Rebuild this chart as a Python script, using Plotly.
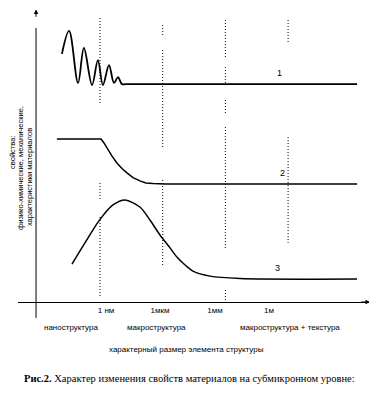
import plotly.graph_objects as go

# x: log10 of the characteristic size of the structure element (m)
# y: property value (arbitrary units)
grid_x = [-9, -6, -3, 0]
tick_labels = ["1 нм", "1мкм", "1мм", "1м"]
tick_label_x = [-8.71, -6.13, -3.50, -0.91]

c1_x = [-10.82, -10.48, -10.05, -9.77, -9.38, -9.10, -8.86, -8.57, -8.33, -8.14, -7.95, -7.76, 3.30]
c1_y = [84.4, 92.2, 74.5, 86.4, 73.8, 82.3, 73.8, 80.6, 74.5, 76.5, 74.1, 74.1, 74.1]

c2_x = [-11.06, -8.95, -8.81, -8.67, -8.43, -8.19, -7.95, -7.71, -7.42, -7.09, -6.80, -6.46, -5.89, 3.30]
c2_y = [55.4, 55.4, 54.1, 52.4, 49.7, 47.3, 45.4, 43.9, 42.3, 41.2, 40.5, 40.3, 40.1, 40.1]

c3_x = [-10.34, -9.72, -9.05, -8.38, -7.80, -7.09, -6.61, -6.13, -5.65, -5.32, -4.93, -4.55, -3.74, -2.30, 3.30]
c3_y = [12.9, 20.1, 27.6, 33.0, 34.7, 32.3, 27.9, 22.8, 18.4, 15.3, 12.6, 10.5, 8.8, 8.0, 7.8]

curve_labels = ["1", "2", "3"]
curve_label_x = [-0.43, -0.29, -0.53]
curve_label_y = [77.9, 43.9, 11.6]

# visible pieces of each dotted grid line (scan has gaps)
grid_segments = [
    [(96.6, 67.0), (40.5, 34.7), (28.9, 1.7)],
    [(94.2, 90.1), (85.7, 52.7), (41.5, 11.9)],
    [(95.9, 83.3), (79.9, 74.5), (68.7, 64.3), (59.5, 17.7), (4.1, 0.7)],
    [(95.9, 88.4), (56.1, 20.1)],
]

region_labels = ["наноструктура", "макроструктура", "макроструктура + текстура"]
region_x = [-10.39, -6.32, 0.09]

y_title_lines = ["свойства:", "физико-химические, механические,", "характеристики материалов"]
y_title_px = [-0.0142, 0.0085, 0.0313]
y_title_py = [0.507, 0.456, 0.425]

X_RANGE = [-12.923, 3.919]
Y_RANGE = [0, 100]
Y_AXIS_X = -12.06

fig = go.Figure()
fig.add_trace(go.Scatter(x=c1_x, y=c1_y, mode="lines", line=dict(color="black", width=1.8, shape="spline", smoothing=1.0)))
fig.add_trace(go.Scatter(x=c2_x, y=c2_y, mode="lines", line=dict(color="black", width=1.5)))
fig.add_trace(go.Scatter(x=c3_x, y=c3_y, mode="lines", line=dict(color="black", width=1.5, shape="spline", smoothing=0.8)))

for gx, segs in zip(grid_x, grid_segments):
    for y0, y1 in segs:
        fig.add_shape(type="line", xref="x", yref="y", x0=gx, x1=gx, y0=y0, y1=y1,
                      line=dict(color="black", width=1, dash="1px,2px"))

# vertical (property) axis, extending a little below the size axis
fig.add_shape(type="line", xref="x", yref="paper", x0=Y_AXIS_X, x1=Y_AXIS_X, y0=-0.054, y1=0.932,
              line=dict(color="black", width=1))

ann = []
ann.append(dict(x=Y_AXIS_X, y=99.5, ax=Y_AXIS_X, ay=96.5, xref="x", yref="y", axref="x", ayref="y",
                showarrow=True, arrowhead=2, arrowsize=0.9, arrowwidth=1, arrowcolor="black", text=""))
ann.append(dict(x=X_RANGE[1], y=0, ax=X_RANGE[1] - 0.5, ay=0, xref="x", yref="y", axref="x", ayref="y",
                showarrow=True, arrowhead=2, arrowsize=0.9, arrowwidth=1, arrowcolor="black", text=""))

CENTER = dict(xanchor="center", yanchor="middle", showarrow=False)

for t, x, y in zip(curve_labels, curve_label_x, curve_label_y):
    ann.append(dict(x=x, y=y, xref="x", yref="y", text=t,
                    font=dict(family="Liberation Sans", size=9, color="black"), **CENTER))

for t, x in zip(region_labels, region_x):
    ann.append(dict(x=x, y=-0.088, xref="x", yref="paper", text=t,
                    font=dict(family="Liberation Sans", size=8, color="black"), **CENTER))

ann.append(dict(x=-4.885, y=-0.163, xref="x", yref="paper", text="характерный размер элемента структуры",
                font=dict(family="Liberation Sans", size=8, color="black"), **CENTER))

for t, x, y in zip(y_title_lines, y_title_px, y_title_py):
    ann.append(dict(x=x, y=y, xref="paper", yref="paper", text=t, textangle=-90,
                    font=dict(family="Liberation Sans", size=7.5, color="black"), **CENTER))

ann.append(dict(x=0.487, y=-0.259, xref="paper", yref="paper",
                text="<b>Рис.2.</b> Характер изменения свойств материалов на субмикронном уровне:",
                font=dict(family="Liberation Serif", size=10.5, color="black"), **CENTER))

# the page body keeps its default 8px margin, so the figure is 8px smaller
# and its margins are reduced accordingly
fig.update_layout(
    width=369, height=387,
    margin=dict(l=10, r=7, t=0, b=93),
    paper_bgcolor="white", plot_bgcolor="white",
    showlegend=False,
    annotations=ann,
    xaxis=dict(range=X_RANGE, showgrid=False, zeroline=False, showline=True, linecolor="black", linewidth=1,
               tickmode="array", tickvals=tick_label_x, ticktext=tick_labels, ticks="",
               tickfont=dict(family="Liberation Sans", size=8, color="black")),
    yaxis=dict(range=Y_RANGE, showgrid=False, zeroline=False, showline=False, showticklabels=False, ticks=""),
)

fig.write_html("out.html")
